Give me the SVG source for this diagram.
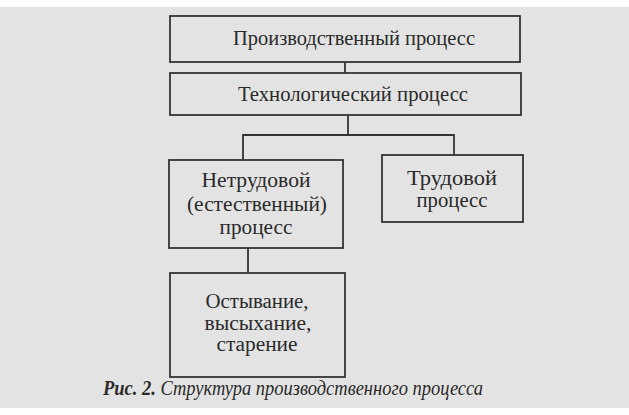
<svg xmlns="http://www.w3.org/2000/svg" width="629" height="415" viewBox="0 0 629 415">
<style>
.bg{fill:#e3e3e3}
.box{fill:none;stroke:#333;stroke-width:1.8}
.ln{fill:none;stroke:#333;stroke-width:1.8}
.t{font-family:"Liberation Serif","Times New Roman",serif;font-size:22px;fill:#2a2a2a;text-anchor:middle}
.s{font-size:20px}
.cap{font-family:"Liberation Serif","Times New Roman",serif;font-size:20px;fill:#2a2a2a;font-style:italic}
</style>
<rect x="0" y="0" width="629" height="415" fill="#fdfdfd"/>
<rect class="bg" x="0" y="7" width="629" height="401"/>
<g id="connectors">
<line class="ln" x1="345" y1="62" x2="345" y2="73"/>
<polyline class="ln" points="243,160 243,135 454,135 454,155"/>
<line class="ln" x1="348" y1="115" x2="348" y2="135"/>
<line class="ln" x1="248" y1="248" x2="248" y2="273"/>
</g>
<g id="n1">
<rect class="box" x="170" y="16" width="350" height="46"/>
<text class="t" x="354" y="45" textLength="242" lengthAdjust="spacingAndGlyphs">Производственный процесс</text>
</g>
<g id="n2">
<rect class="box" x="170" y="73" width="351" height="42"/>
<text class="t" x="353" y="101" textLength="230" lengthAdjust="spacingAndGlyphs">Технологический процесс</text>
</g>
<g id="n3">
<rect class="box" x="169" y="160" width="174" height="88"/>
<text class="t" x="256" y="187" textLength="109" lengthAdjust="spacingAndGlyphs">Нетрудовой</text>
<text class="t" x="257" y="211" textLength="140" lengthAdjust="spacingAndGlyphs">(естественный)</text>
<text class="t" x="256" y="234" textLength="73" lengthAdjust="spacingAndGlyphs">процесс</text>
</g>
<g id="n4">
<rect class="box" x="382" y="155" width="141" height="67"/>
<text class="t s" x="452" y="185" textLength="90" lengthAdjust="spacingAndGlyphs">Трудовой</text>
<text class="t s" x="452" y="207" textLength="71" lengthAdjust="spacingAndGlyphs">процесс</text>
</g>
<g id="n5">
<rect class="box" x="170" y="273" width="175" height="104"/>
<text class="t s" x="257" y="308" textLength="103" lengthAdjust="spacingAndGlyphs">Остывание,</text>
<text class="t s" x="258" y="329.5" textLength="107" lengthAdjust="spacingAndGlyphs">высыхание,</text>
<text class="t s" x="257" y="351" textLength="81" lengthAdjust="spacingAndGlyphs">старение</text>
</g>
<text class="cap" x="103" y="395" textLength="380" lengthAdjust="spacingAndGlyphs"><tspan font-weight="bold">Рис. 2.</tspan> Структура производственного процесса</text>
</svg>
